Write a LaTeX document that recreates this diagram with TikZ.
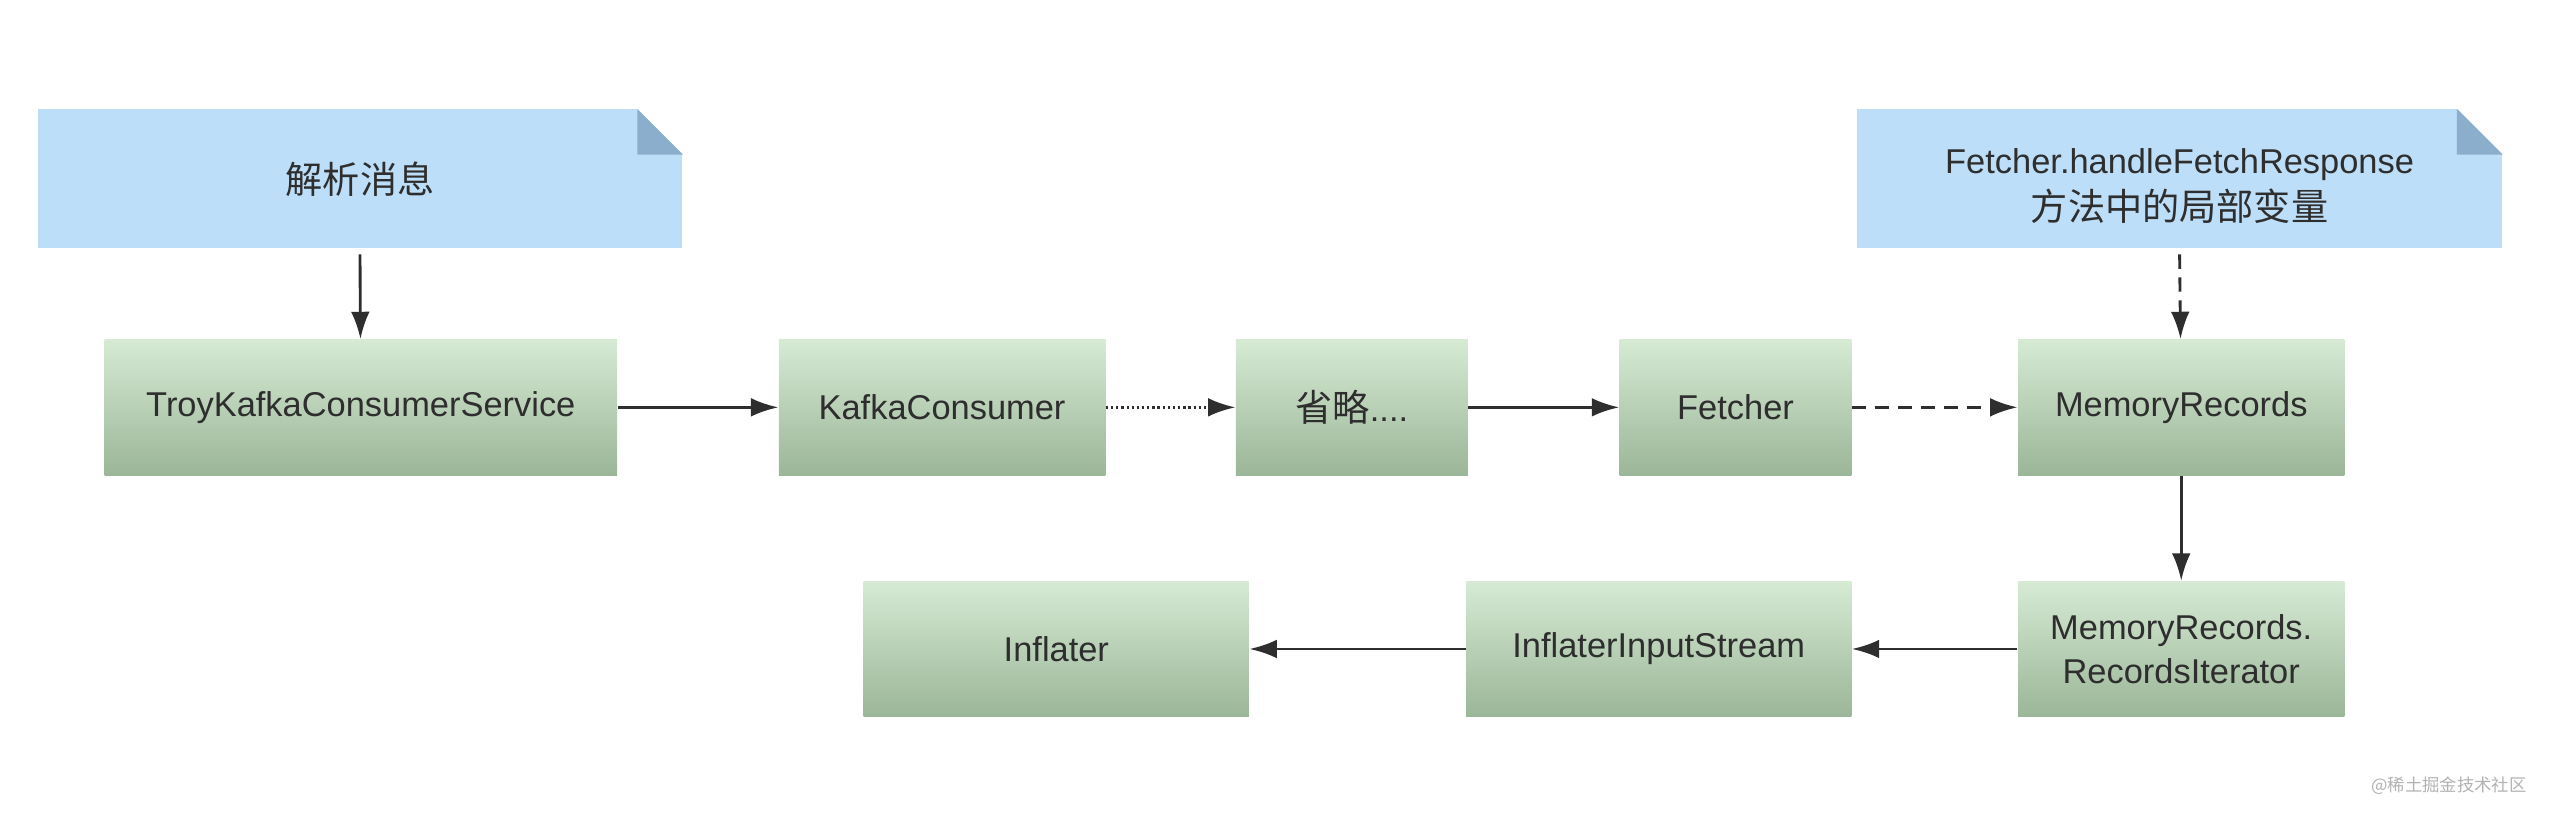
\documentclass[tikz,border=0pt]{standalone}
\usepackage{fontspec}
\setmainfont{Liberation Sans}
\newfontfamily\cjk[Scale=1.08]{Noto Sans CJK SC}
\usetikzlibrary{arrows.meta}
\definecolor{noteblue}{HTML}{BCDEF8}
\definecolor{foldblue}{HTML}{8AAECB}
\definecolor{boxtop}{HTML}{D6EAD4}
\definecolor{boxbot}{HTML}{9BB698}
\definecolor{ink}{HTML}{2E2E2E}

\begin{document}
\begin{tikzpicture}[x=0.02cm,y=-0.02cm,
    font=\fontsize{12}{16.5}\selectfont, text=ink,
    note/.style={fill=noteblue,minimum width=7.9cm,minimum height=1.7cm,align=center,inner sep=0pt},
    box/.style={top color=boxtop,bottom color=boxbot,minimum height=1.66cm,align=center,inner sep=0pt},
    flow/.style={draw=ink,line width=1pt,-{Latex[length=9.5pt,width=6.5pt]}}]
  \useasboundingbox (0,0) rectangle (1568,502);
  \node[note] (parse) at (220.5,109.5) {\cjk 解析消息};
  \node[note] (local) at (1335,109.5) {\rule{0pt}{14pt}Fetcher.handleFetchResponse\\{\cjk 方法中的局部变量}};
  \foreach \n in {parse,local} {
    \fill[white] (\n.north east) -- ++(-28,0) -- ++(28,28) -- cycle;
    \fill[foldblue] ([shift={(-28,0)}]\n.north east) -- ++(28,28) -- ++(-28,0) -- cycle;
  }
  \node[box,minimum width=6.28cm] (troy) at (221,249.5) {TroyKafkaConsumerService};
  \node[box,minimum width=4cm] (kafka) at (577,249.5) {KafkaConsumer};
  \node[box,minimum width=2.84cm] (omit) at (828,249.5) {{\cjk 省略}....};
  \node[box,minimum width=2.84cm] (fetcher) at (1063,249.5) {Fetcher};
  \node[box,minimum width=4cm] (mr) at (1336,249.5) {MemoryRecords};
  \node[box,minimum width=4.72cm] (inflater) at (647,397.5) {Inflater};
  \node[box,minimum width=4.72cm] (iis) at (1016,397.5) {InflaterInputStream};
  \node[box,minimum width=4cm,font=\fontsize{12}{15.4}\selectfont] (mrri) at (1336,397.5) {MemoryRecords.\\RecordsIterator};
  \draw[flow] ([yshift=-2pt]parse.south) -- (troy);
  \draw[flow,dash pattern=on 5pt off 3pt] ([yshift=-2pt]local.south) -- (mr);
  \draw[flow] (troy) -- (kafka);
  \draw[flow,dash pattern=on 0.8pt off 1pt] (kafka) -- (omit);
  \draw[flow] (omit) -- (fetcher);
  \draw[flow,dash pattern=on 5pt off 3pt] (fetcher) -- (mr);
  \draw[flow] (mr) -- (mrri);
  \draw[flow] (mrri) -- (iis);
  \draw[flow] (iis) -- (inflater);
  \node[text=gray!60,font=\cjk\fontsize{5.6}{7}\selectfont] (mark) at (1500,481) {@稀土掘金技术社区};
\end{tikzpicture}
\end{document}
